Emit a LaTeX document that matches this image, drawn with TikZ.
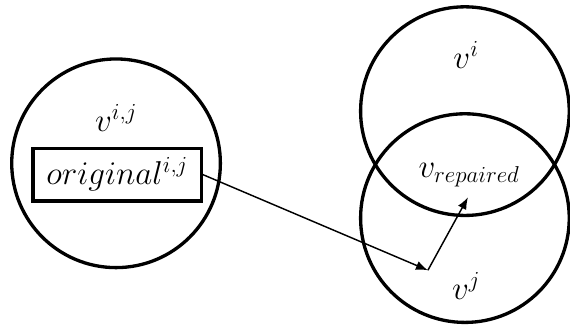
\documentclass[tikz,border=0pt]{standalone}
\usepackage{amssymb}
\usepackage{amsmath}
\usetikzlibrary{arrows.meta}

\begin{document}
\begin{tikzpicture}[scale=1.0,
  set/.style={circle, draw, line width=2.5pt, minimum size=5.52cm, inner sep=0pt},
  lbl/.style={font=\fontsize{26}{31}\selectfont},
  link/.style={line width=1.1pt, -{Latex[length=9pt,width=7pt]}}]
\useasboundingbox (0,0) rectangle (15.08,8.71);
% the three sets
\node[set] (vij) at (3.07,4.39) {};
\node[set] (vi) at (12.30,5.77) {};
\node[set] (vj) at (12.30,2.94) {};
% labels
\node[lbl] (lij) at (3.07,5.58) {$v^{i,j}$};
\node[lbl, draw, line width=2.5pt, minimum width=4.45cm, minimum height=1.4cm] (orig) at (3.10,4.09) {$original^{i,j}$};
\node[lbl] (li) at (12.33,7.25) {$v^{i}$};
\node[lbl] (lrep) at (12.41,4.07) {$v_{repaired}$};
\node[lbl] (lj) at (12.33,1.14) {$v^{j}$};
% mapping, then repair step
\coordinate (hit) at (11.32,1.56);
\coordinate (fix) at (12.38,3.49);
\draw[link] (orig.east) -- (hit);
\draw[link] (hit) -- (fix);
\end{tikzpicture}
\end{document}
